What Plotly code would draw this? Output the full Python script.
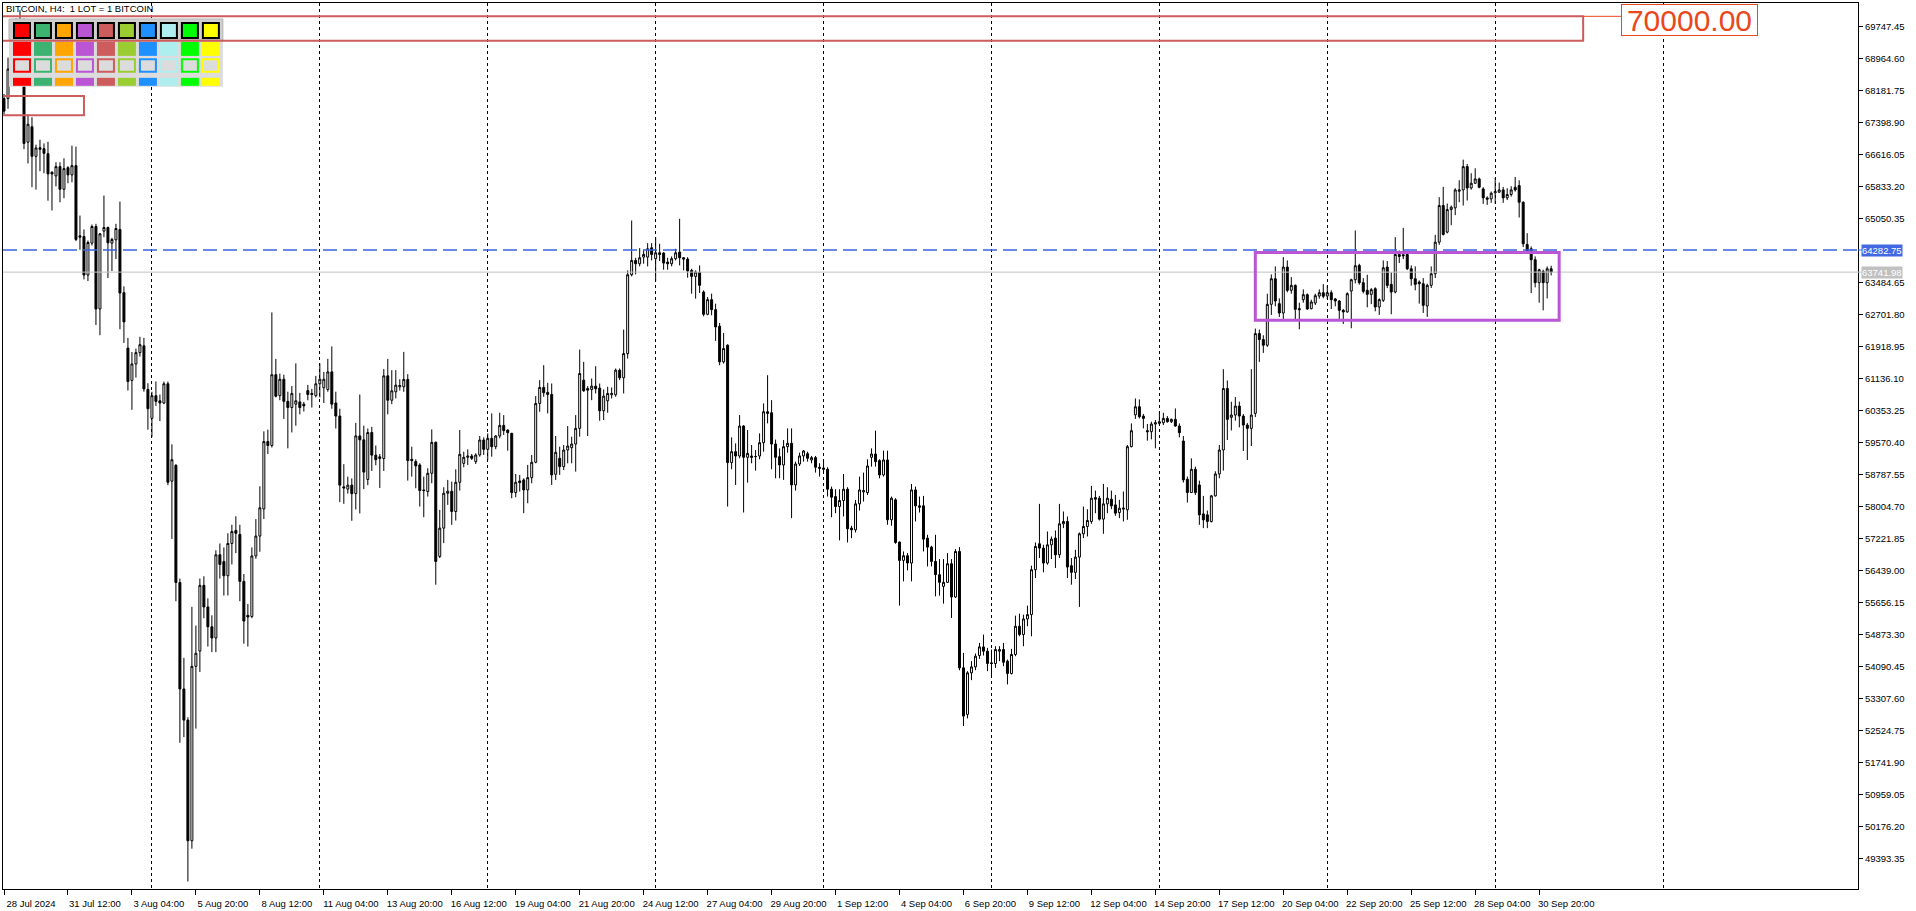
import pandas as pd
import plotly.graph_objects as go

# ---------------- data (BITCOIN, H4) ----------------
first_bar = "2024-07-28 20:00"

opens = [
    67990, 67990, 68710, 69370, 69700, 69820, 66920, 67300, 66575, 66786,  # 0
    66762, 66640, 66184, 66095, 66323, 65769, 66298, 66119, 66347, 64630,  # 10
    64614, 63670, 64450, 64858, 62840, 64744, 64833, 64451, 64532, 64785,  # 20
    63239, 61883, 61093, 61495, 61772, 61938, 60871, 60165, 60719, 60594,  # 30
    60539, 61010, 58627, 59015, 56148, 53543, 52781, 49830, 54097, 54470,  # 40
    56078, 55550, 55065, 54790, 56826, 56660, 56314, 57103, 57422, 57325,  # 50
    56175, 55345, 55317, 56798, 57284, 57948, 59597, 59500, 61232, 60719,  # 60
    61121, 60580, 60428, 60511, 60567, 60511, 60843, 60774, 60719, 61010,  # 70
    60913, 60871, 61301, 60539, 60220, 58489, 58433, 58530, 58322, 59735,  # 80
    59638, 58669, 59818, 59264, 59223, 59181, 61204, 60608, 60814, 60936,  # 90
    60936, 61115, 59162, 59106, 59024, 58413, 58373, 58820, 59577, 56786,  # 100
    57478, 58332, 58381, 57885, 58600, 59063, 59211, 59243, 59105, 59268,  # 110
    59634, 59406, 59675, 59471, 59732, 59992, 59878, 59797, 58348, 58633,  # 120
    58657, 58413, 58714, 59089, 60529, 60920, 60798, 60749, 58796, 59186,  # 130
    58983, 59389, 59447, 59536, 59919, 61099, 60895, 60871, 60952, 60904,  # 140
    60350, 60594, 60741, 60741, 61343, 61156, 61749, 63678, 64028, 63947,  # 150
    64109, 64109, 64337, 64069, 64215, 64207, 63987, 63947, 64069, 64231,  # 160
    64093, 64060, 63784, 63637, 63735, 63255, 62710, 63068, 62824, 62417,  # 170
    61546, 61953, 59081, 59349, 59243, 59976, 59211, 59243, 59227, 59243,  # 180
    59569, 60326, 60301, 59536, 59227, 59024, 59471, 59553, 58536, 59048,  # 190
    59244, 59300, 59146, 59203, 58967, 58950, 58918, 58430, 58251, 58007,  # 200
    58153, 58430, 57478, 57437, 58072, 58365, 58348, 59211, 59292, 59130,  # 210
    58780, 59146, 57682, 58170, 57136, 56689, 56803, 56624, 58413, 58023,  # 220
    58023, 57234, 57014, 56664, 56339, 56054, 56152, 56607, 55794, 56908,  # 230
    54060, 52921, 53938, 54084, 54361, 54573, 54467, 54182, 54166, 54467,  # 240
    54508, 54223, 53922, 54386, 55077, 54874, 55256, 55362, 56461, 57096,  # 250
    56990, 56624, 57071, 57234, 56827, 57584, 57641, 56559, 56396, 56770,  # 260
    57340, 57519, 57641, 58226, 58210, 57698, 58072, 58186, 58047, 57860,  # 270
    57942, 57926, 59471, 60250, 60448, 60220, 59862, 59838, 60025, 60041,  # 280
    60057, 60163, 60082, 60139, 59976, 59609, 58674, 58348, 58918, 58535,  # 290
    57827, 57803, 57641, 58267, 58804, 59390, 60895, 60188, 60245, 60464,  # 300
    60220, 60000, 59919, 60285, 62238, 62091, 61953, 62954, 63580, 62970,  # 310
    62742, 63865, 63296, 63418, 62848, 63068, 63190, 62848, 62986, 63157,  # 320
    63238, 63157, 63238, 63085, 63035, 62807, 62767, 63279, 63556, 63906,  # 330
    63483, 63296, 63198, 63336, 62889, 63052, 63865, 63442, 63255, 64174,  # 340
    64166, 64174, 63824, 63580, 63499, 63458, 62913, 63418, 63702, 64475,  # 350
    65371, 64720, 65273, 65314, 65720, 65753, 66323, 65801, 65916, 66021,  # 360
    65777, 65558, 65533, 65680, 65697, 65753, 65558, 65640, 65818, 65859,  # 370
    65452, 64419, 64313, 64045, 63483, 63759, 63483, 63824,                # 380
]

highs = [
    68100, 68990, 69700, 69950, 70150, 69950, 67600, 67530, 66860, 66980,
    66890, 66930, 66210, 66430, 66430, 66526, 66331, 66835, 66811, 65126,
    64785, 64516, 64907, 64923, 64695, 65615, 64858, 64581, 64923, 65468,
    63393, 62132, 61786, 61869, 62160, 62132, 61024, 60816, 61065, 60747,
    61065, 61065, 59528, 59043, 56245, 54305, 52850, 55552, 55095, 56245,
    56300, 55760, 55345, 56937, 57103, 57006, 57353, 57561, 57768, 57561,
    56355, 55621, 57006, 57699, 58502, 59846, 59887, 62755, 61619, 61259,
    61232, 60816, 60954, 61509, 60788, 60567, 60982, 60885, 61204, 61508,
    61301, 61619, 61924, 60816, 60400, 59043, 58738, 58696, 60054, 60747,
    59985, 59915, 59957, 59500, 59292, 61370, 61619, 61342, 61343, 61121,
    61790, 61245, 59471, 59162, 59065, 58739, 58942, 59894, 59600, 57925,
    58478, 58658, 58617, 58918, 59878, 59349, 59406, 59292, 59308, 59732,
    59699, 59797, 60285, 59756, 60301, 60244, 59894, 59810, 58804, 58780,
    58698, 59024, 59268, 60708, 61099, 61465, 61034, 61017, 59732, 59471,
    59511, 59976, 59715, 60244, 61847, 61546, 60952, 61139, 61440, 61017,
    60871, 60936, 60920, 61383, 61383, 62336, 63784, 65004, 64093, 64329,
    64289, 64451, 64451, 64598, 64435, 64231, 64093, 64126, 64313, 65045,
    64109, 64109, 63824, 63784, 63906, 63296, 63133, 63215, 62970, 62498,
    62254, 61977, 59699, 59552, 60244, 60000, 59878, 59511, 59389, 59797,
    60529, 61220, 60610, 59645, 59430, 59634, 59919, 59919, 59105, 59325,
    59390, 59350, 59244, 59244, 59065, 59162, 58967, 58495, 58430, 58430,
    58804, 58479, 57535, 58169, 58739, 58837, 59162, 59430, 59862, 59162,
    59374, 59374, 58251, 58210, 57153, 56908, 56868, 58560, 58495, 58251,
    58267, 57315, 57047, 57315, 56721, 56721, 56868, 56721, 56965, 57014,
    54426, 53979, 54223, 54410, 54670, 54874, 54548, 54508, 54589, 54589,
    54670, 54263, 54524, 55338, 55386, 55362, 55582, 56559, 57128, 58072,
    57071, 57396, 57274, 57421, 58072, 57885, 57763, 56746, 56949, 57372,
    58007, 57941, 58511, 58397, 58267, 58560, 58479, 58397, 58291, 58170,
    58373, 59512, 60041, 60651, 60627, 60269, 60025, 60082, 60122, 60326,
    60301, 60220, 60160, 60407, 60041, 59731, 58739, 59186, 58983, 58641,
    58267, 57909, 58291, 58869, 59512, 61367, 61091, 60570, 60684, 60574,
    60269, 60050, 61367, 62361, 62336, 62197, 63214, 63685, 63881, 63100,
    64109, 64028, 63620, 63440, 62994, 63320, 63220, 63068, 63214, 63320,
    63450, 63418, 63296, 63110, 63060, 62840, 63247, 63580, 64760, 63946,
    63596, 63677, 63352, 63370, 63100, 64028, 64012, 63735, 64597, 64271,
    64825, 64207, 63906, 63881, 63540, 63596, 63458, 63881, 64654, 65575,
    65827, 65420, 65371, 65794, 65989, 66493, 66388, 66160, 66282, 66054,
    65818, 65595, 65713, 66046, 65933, 65826, 65794, 65843, 66071, 65989,
    65474, 64695, 64369, 64126, 63825, 63800, 63881, 63898,
]

lows = [
    67600, 67740, 68600, 69150, 69450, 66750, 66400, 65820, 65760, 66210,
    66160, 65490, 65250, 65840, 65450, 65550, 65916, 65940, 64500, 64288,
    63564, 63524, 64394, 62449, 62197, 64597, 63597, 63768, 64061, 62344,
    62010, 60844, 60373, 61162, 61675, 60816, 59888, 59708, 60469, 60096,
    60511, 58530, 57214, 55690, 52227, 52365, 48833, 49636, 52574, 53959,
    55275, 54580, 54444, 54444, 56245, 55829, 55829, 56590, 56868, 55690,
    54651, 54582, 55275, 56729, 56900, 57700, 59292, 59450, 60677, 60608,
    60151, 59431, 59819, 59985, 60262, 60331, 60608, 60428, 60677, 60677,
    60539, 60816, 60400, 59915, 58115, 58073, 58322, 57658, 57935, 57838,
    58433, 58530, 58877, 59015, 58461, 58877, 60262, 60511, 60651, 60844,
    60814, 58641, 58739, 58454, 58006, 57746, 58251, 58576, 56094, 56745,
    57111, 58047, 57559, 57665, 58397, 58967, 59024, 59145, 59048, 59227,
    59268, 59145, 59227, 59406, 59675, 59756, 59373, 58210, 58234, 58373,
    57844, 58087, 58576, 59065, 60326, 60692, 60285, 58535, 58657, 58779,
    58901, 59064, 59064, 58861, 59715, 60814, 59732, 60610, 60773, 60106,
    60122, 60301, 60651, 60692, 61099, 60773, 61627, 63637, 63686, 63882,
    63947, 63882, 64028, 63524, 64012, 63800, 63800, 63882, 64028, 63906,
    63784, 63605, 63215, 63092, 63231, 62661, 62685, 62685, 62059, 61465,
    61505, 58006, 58918, 58535, 59186, 57860, 58592, 59065, 58885, 59162,
    59349, 60041, 58918, 58698, 58698, 58658, 59325, 57722, 58397, 58999,
    59105, 59105, 59065, 58837, 58739, 58837, 58251, 57746, 57844, 57177,
    57763, 57128, 57234, 57372, 57909, 58129, 58291, 58983, 58983, 58698,
    58739, 57560, 57535, 57096, 55582, 56176, 56445, 56176, 57641, 57860,
    56908, 56542, 56542, 55810, 55826, 55631, 56135, 55281, 55769, 54000,
    52636, 52823, 53759, 54003, 54280, 54361, 53979, 53816, 54060, 54223,
    54101, 53654, 53898, 54345, 54833, 54589, 55077, 54833, 56257, 56746,
    56396, 56583, 56721, 56502, 56746, 57478, 56257, 56095, 56233, 55550,
    57234, 57275, 57584, 57844, 57665, 57340, 57844, 57942, 57779, 57722,
    57641, 57682, 59455, 60150, 60163, 59919, 59618, 59650, 59431, 60000,
    60000, 60057, 60050, 59960, 59699, 58593, 58104, 58348, 58291, 57559,
    57478, 57478, 57616, 58251, 58698, 58886, 59634, 59869, 60106, 59943,
    59365, 59146, 59487, 60196, 61546, 61766, 61912, 62694, 62905, 62644,
    62596, 63247, 63214, 62563, 62344, 62994, 62820, 62830, 62938, 63092,
    63100, 63085, 62840, 62905, 62596, 62474, 62750, 62368, 63466, 63434,
    63222, 62880, 62960, 62783, 62694, 63011, 63350, 62710, 63222, 63963,
    64060, 63791, 63410, 63296, 62970, 62742, 62645, 63353, 63597, 64410,
    64638, 64690, 64890, 65135, 65452, 65371, 65493, 65761, 65900, 65794,
    65412, 65387, 65436, 65412, 65680, 65436, 65504, 65590, 65712, 65078,
    64354, 64207, 63229, 63369, 62994, 62807, 63100, 63661,
]

closes = [
    67680, 68710, 69370, 69700, 69820, 66890, 67360, 66575, 66780, 66746,
    66648, 66144, 66144, 66323, 65769, 66274, 66119, 66347, 64541, 64597,
    63670, 64467, 64858, 62840, 64679, 64833, 64459, 64541, 64809, 63231,
    62523, 61065, 61495, 61772, 61966, 60885, 60400, 60719, 60580, 60539,
    61010, 58600, 59153, 56148, 53543, 52781, 49830, 54097, 54416, 56078,
    55550, 55065, 54790, 56826, 56590, 56314, 57103, 57394, 57353, 56175,
    55205, 55303, 56798, 57284, 57976, 59597, 59500, 61232, 60705, 61121,
    60580, 60428, 60774, 60594, 60428, 60469, 60747, 60747, 61010, 61121,
    61121, 61301, 60511, 60220, 58530, 58461, 58530, 58322, 59735, 59638,
    58849, 59818, 59264, 59153, 59181, 61204, 60608, 60838, 60977, 60968,
    61115, 59130, 59130, 58999, 58397, 58397, 58820, 59577, 56664, 57478,
    58332, 58381, 57885, 58600, 59284, 59211, 59243, 59186, 59268, 59634,
    59406, 59675, 59471, 59732, 59992, 59862, 59813, 58348, 58600, 58592,
    58413, 58714, 59089, 60529, 60920, 60790, 60749, 58780, 59333, 58983,
    59389, 59487, 59536, 59919, 61261, 60838, 60854, 60952, 60887, 60350,
    60708, 60773, 60773, 61343, 61156, 61749, 63678, 64028, 63947, 64093,
    64174, 64313, 64174, 64215, 64174, 63963, 63947, 64069, 64215, 64093,
    64060, 63768, 63637, 63743, 63418, 62710, 63068, 62824, 62401, 61546,
    61872, 59081, 59349, 59243, 59976, 59211, 59308, 59211, 59230, 59569,
    60326, 60285, 59536, 59211, 59024, 59471, 59553, 58536, 59048, 59244,
    59366, 59187, 59203, 58967, 58942, 58918, 58430, 58235, 58007, 58153,
    58430, 57462, 57437, 58072, 58413, 58397, 59000, 59292, 59105, 58780,
    59146, 57682, 58210, 57128, 56689, 56803, 56624, 58413, 58023, 57991,
    57209, 57014, 56664, 56339, 56152, 56152, 56607, 55794, 56908, 54060,
    52880, 53938, 54084, 54345, 54573, 54467, 54166, 54166, 54508, 54508,
    54198, 53922, 54386, 55077, 54874, 55256, 55362, 56461, 57030, 56990,
    56624, 57071, 57209, 56827, 57584, 57641, 56526, 56396, 56770, 57340,
    57519, 57665, 58210, 58186, 57698, 58072, 58210, 58023, 57844, 57966,
    57966, 59471, 59862, 60448, 60204, 60163, 59838, 60025, 60057, 60082,
    60163, 60082, 60139, 59976, 59813, 58658, 58348, 58918, 58348, 57803,
    57681, 57641, 58267, 58804, 59390, 60895, 60139, 60245, 60464, 60220,
    60000, 59919, 60244, 62238, 62091, 61953, 62954, 63580, 63035, 62742,
    63865, 63296, 63418, 62832, 62824, 63190, 62840, 63011, 63165, 63238,
    63149, 63238, 63068, 63035, 62807, 62767, 63214, 63556, 63898, 63483,
    63271, 63198, 63312, 62889, 63068, 63849, 63417, 63255, 64174, 64126,
    64142, 63824, 63580, 63442, 63458, 62930, 63418, 63702, 64475, 65371,
    64663, 65273, 65330, 65753, 65753, 66323, 65801, 65916, 66021, 65818,
    65558, 65525, 65672, 65712, 65753, 65558, 65640, 65753, 65753, 65452,
    64435, 64256, 64045, 63483, 63800, 63483, 63824, 63742,
]

assert len(opens) == len(highs) == len(lows) == len(closes)

x_tick_labels = [
    "28 Jul 2024", "31 Jul 12:00", "3 Aug 04:00", "5 Aug 20:00", "8 Aug 12:00",
    "11 Aug 04:00", "13 Aug 20:00", "16 Aug 12:00", "19 Aug 04:00", "21 Aug 20:00",
    "24 Aug 12:00", "27 Aug 04:00", "29 Aug 20:00", "1 Sep 12:00", "4 Sep 04:00",
    "6 Sep 20:00", "9 Sep 12:00", "12 Sep 04:00", "14 Sep 20:00", "17 Sep 12:00",
    "20 Sep 04:00", "22 Sep 20:00", "25 Sep 12:00", "28 Sep 04:00", "30 Sep 20:00",
]
x_tick_every = 16  # bars between time labels

# weekly separators drawn by the terminal
week_lines = ["2024-08-04", "2024-08-11", "2024-08-18", "2024-08-25", "2024-09-01",
              "2024-09-08", "2024-09-15", "2024-09-22", "2024-09-29", "2024-10-06"]

y_tick_labels = [
    "69747.45", "68964.60", "68181.75", "67398.90", "66616.05", "65833.20",
    "65050.35", "63484.65", "62701.80", "61918.95", "61136.10", "60353.25",
    "59570.40", "58787.55", "58004.70", "57221.85", "56439.00", "55656.15",
    "54873.30", "54090.45", "53307.60", "52524.75", "51741.90", "50959.05",
    "50176.20", "49393.35",
]

ask_price = 64282.75
bid_price = 63741.98

# chart objects (time / price anchors)
zone_start = ["2024-07-28 08:00", "2024-07-28 08:00", "2024-09-19 00:00"]
zone_end = ["2024-10-02 16:00", "2024-08-01 04:00", "2024-10-01 16:00"]
zone_top = [70000, 68050, 64223]
zone_bottom = [69400, 67580, 62563]
level_label = "70000.00"
level_price = 70000
level_line_end = "2024-10-04 06:00"

palette = ["#FF0000", "#3CB371", "#FFA500", "#BA55D3", "#CD5C5C",
           "#9ACD32", "#1E90FF", "#AFEEEE", "#00FF00", "#FFFF00"]

# ---------------- layout geometry ----------------
W, H = 1916, 911
M_L, M_R, M_T, M_B = 2, 58, 2, 21
PW = W - M_L - M_R
PH = H - M_T - M_B
FONT = "Liberation Sans, Arial, sans-serif"


def pxx(x):
    return (x - M_L) / PW


def pxy(y):
    return (M_T + PH - y) / PH


times = pd.date_range(first_bar, periods=len(closes), freq="4h")
bar = pd.Timedelta(hours=4)
x_start = times[0] - bar * 0.25
x_end = x_start + bar * (PW / 4.0)

fig = go.Figure()
fig.add_trace(go.Candlestick(
    x=times, open=opens, high=highs, low=lows, close=closes,
    increasing=dict(fillcolor="#FFFFFF", line=dict(color="#000000", width=1)),
    decreasing=dict(fillcolor="#000000", line=dict(color="#000000", width=1)),
    whiskerwidth=0, hoverinfo="skip", showlegend=False,
))

shapes = []

# horizontal price lines
shapes.append(dict(type="line", xref="paper", yref="y", x0=0, x1=1,
                   y0=bid_price, y1=bid_price, line=dict(color="#C0C0C0", width=1)))
shapes.append(dict(type="line", xref="paper", yref="y", x0=0, x1=1,
                   y0=ask_price, y1=ask_price,
                   line=dict(color="#3A62E0", width=1.3, dash="14px,6px")))
shapes.append(dict(type="line", xref="paper", yref="y", x0=1, x1=pxx(1862),
                   y0=ask_price, y1=ask_price, line=dict(color="#4169E1", width=1)))
shapes.append(dict(type="line", xref="paper", yref="y", x0=1, x1=pxx(1862),
                   y0=bid_price, y1=bid_price, line=dict(color="#C0C0C0", width=1)))

# colour palette panel (UI overlay)
shapes.append(dict(type="rect", xref="paper", yref="paper",
                   x0=pxx(8), x1=pxx(222), y0=pxy(18), y1=pxy(86),
                   fillcolor="#DCDCDC", line=dict(width=0)))
shapes.append(dict(type="rect", xref="paper", yref="paper",
                   x0=pxx(8), x1=pxx(222), y0=pxy(18), y1=pxy(39),
                   fillcolor="#CFCFCF", line=dict(color="#B4B4B4", width=1)))
for k, col in enumerate(palette):
    cx0 = 12 + 21 * k
    cx1 = cx0 + 18
    shapes.append(dict(type="rect", xref="paper", yref="paper",
                       x0=pxx(cx0 + 1), x1=pxx(cx1 - 1), y0=pxy(22), y1=pxy(37),
                       fillcolor=col, line=dict(color="#000000", width=2)))
    shapes.append(dict(type="rect", xref="paper", yref="paper",
                       x0=pxx(cx0), x1=pxx(cx1), y0=pxy(41), y1=pxy(55),
                       fillcolor=col, line=dict(width=0)))
    shapes.append(dict(type="rect", xref="paper", yref="paper",
                       x0=pxx(cx0 + 1), x1=pxx(cx1 - 1), y0=pxy(58.5), y1=pxy(71),
                       fillcolor="#DCDCDC", line=dict(color=col, width=2)))
    shapes.append(dict(type="rect", xref="paper", yref="paper",
                       x0=pxx(cx0), x1=pxx(cx1), y0=pxy(77), y1=pxy(85),
                       fillcolor=col, line=dict(width=0)))

# rectangles (chart objects)
zone_styles = [("#CD5C5C", 2), ("#CD5C5C", 2), ("#BA55D3", 3)]
for s, e, t, b, (col, lw) in zip(zone_start, zone_end, zone_top, zone_bottom, zone_styles):
    shapes.append(dict(type="rect", xref="x", yref="y", x0=s, x1=e, y0=b, y1=t,
                       line=dict(color=col, width=lw), fillcolor="rgba(0,0,0,0)"))
shapes.append(dict(type="line", xref="x", yref="y", x0=zone_end[0], x1=level_line_end,
                   y0=level_price, y1=level_price, line=dict(color="#E9481C", width=1)))

annotations = [
    dict(xref="paper", yref="paper", x=pxx(4), y=pxy(1), xanchor="left", yanchor="top",
         text="BITCOIN, H4:\u00a0 1 LOT = 1 BITCOIN", showarrow=False,
         font=dict(family=FONT, size=9.5, color="#000000"), borderpad=0),
    dict(xref="paper", yref="paper", x=pxx(1689), y=pxy(19), xanchor="center", yanchor="middle",
         text=level_label, showarrow=False, width=135, height=30,
         font=dict(family=FONT, size=30, color="#E9481C"),
         bgcolor="#FFFFFF", bordercolor="#E9481C", borderwidth=1, borderpad=0),
    dict(xref="paper", yref="y", x=1, y=ask_price, xanchor="left", yanchor="middle",
         xshift=3, text="64282.75", showarrow=False, bgcolor="#4169E1",
         font=dict(family=FONT, size=9.5, color="#FFFFFF"), borderpad=0),
    dict(xref="paper", yref="y", x=1, y=bid_price, xanchor="left", yanchor="middle",
         xshift=3, text="63741.98", showarrow=False, bgcolor="#C0C0C0",
         font=dict(family=FONT, size=9.5, color="#FFFFFF"), borderpad=0),
]

y_lo = 69747.45 - (PH + M_T - 25.7) * 782.85 / 32.07
y_hi = 69747.45 + (25.7 - M_T) * 782.85 / 32.07

fig.update_layout(
    width=W, height=H,
    margin=dict(l=M_L, r=M_R, t=M_T, b=M_B, pad=0),
    paper_bgcolor="#FFFFFF", plot_bgcolor="#FFFFFF",
    font=dict(family=FONT, size=9.5, color="#000000"),
    showlegend=False,
    shapes=shapes,
    annotations=annotations,
    hovermode=False,
    xaxis=dict(
        type="date", range=[x_start, x_end], autorange=False,
        rangeslider=dict(visible=False),
        tickmode="array", tickvals=list(times[::x_tick_every]), ticktext=x_tick_labels,
        ticks="outside", ticklen=5, tickwidth=1, tickcolor="#000000",
        ticklabelshift=27, ticklabelstandoff=1,
        showgrid=False, zeroline=False,
        showline=True, linecolor="#000000", linewidth=1, mirror=True,
        tickfont=dict(family=FONT, size=9.5, color="#000000"),
        minor=dict(tickmode="array", tickvals=week_lines,
                   showgrid=True, gridcolor="#000000", gridwidth=1, griddash="3px,3px",
                   ticks=""),
    ),
    yaxis=dict(
        side="right", range=[y_lo, y_hi], autorange=False,
        tickmode="array", tickvals=[float(v) for v in y_tick_labels], ticktext=y_tick_labels,
        ticks="outside", ticklen=4, tickwidth=1, tickcolor="#000000",
        showgrid=False, zeroline=False,
        showline=True, linecolor="#000000", linewidth=1, mirror=True,
        tickfont=dict(family=FONT, size=9.5, color="#000000"),
    ),
)

fig.write_html(
    "out.html",
    config={"displayModeBar": False, "staticPlot": True},
    post_script="document.body.style.margin='0';document.body.style.overflow='hidden';",
)
